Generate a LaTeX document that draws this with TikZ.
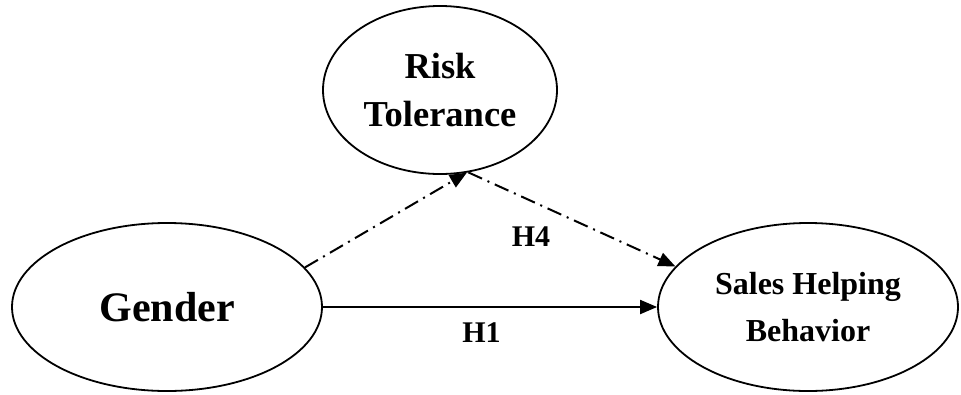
\documentclass[tikz,border=0pt]{standalone}
\usepackage{fontspec}
\setmainfont{Liberation Serif}
\usetikzlibrary{shapes.geometric,arrows.meta}

\begin{document}
\begin{tikzpicture}[x=1pt,y=-1pt,
  construct/.style={ellipse,draw,line width=1.8pt,inner sep=0pt,align=center},
  link/.style={line width=2pt,-{Triangle[length=17pt,width=14pt]}},
  mediated/.style={link,dash pattern=on 15pt off 6pt on 2pt off 6pt},
  hyp/.style={font=\fontsize{30}{36}\selectfont\bfseries,anchor=base}]
  \useasboundingbox (0,0) rectangle (961,394);

  % latent constructs
  \node[construct,minimum width=234pt,minimum height=168pt,
        font=\fontsize{36.5}{48}\selectfont\bfseries] (risk) at (440,90)
    {Risk\\Tolerance};
  \node[construct,minimum width=310pt,minimum height=168pt,
        font=\fontsize{42}{50}\selectfont\bfseries] (gender) at (167,307)
    {Gender};
  \node[construct,minimum width=300pt,minimum height=168pt,
        font=\fontsize{32}{47}\selectfont\bfseries] (sales) at (808,307)
    {Sales Helping\\Behavior};

  % hypothesised paths
  \draw[link] (gender.east) -- (sales.west);
  \draw[mediated] (gender.16) -- (risk.-72);
  \draw[mediated] (risk.-71) -- (sales.163);

  % path labels
  \node[hyp] (h4) at (531,246) {H4};
  \node[hyp] (h1) at (481.5,342) {H1};
\end{tikzpicture}
\end{document}
